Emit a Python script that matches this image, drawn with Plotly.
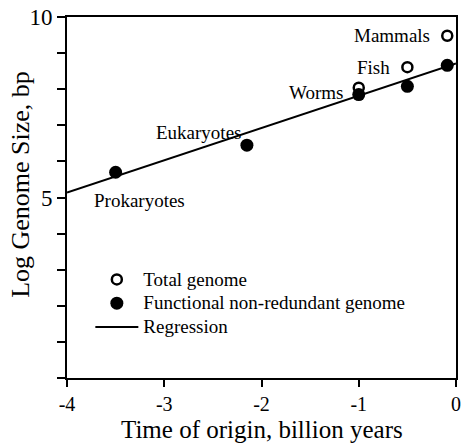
import plotly.graph_objects as go

# Data
groups = ["Prokaryotes", "Eukaryotes", "Worms", "Fish", "Mammals"]
functional_x = [-3.5, -2.15, -1.0, -0.5, -0.09]
functional_y = [5.70, 6.45, 7.85, 8.08, 8.66]
total_x = [-1.0, -0.5, -0.09]
total_y = [8.04, 8.61, 9.48]
regression_x = [-4.0, 0.0]
regression_y = [5.14, 8.71]
x_ticks = [-4, -3, -2, -1, 0]
x_tick_labels = ["-4", "-3", "-2", "-1", "0"]
y_ticks = [0, 1, 2, 3, 4, 5, 6, 7, 8, 9, 10]
y_tick_labels = ["", "", "", "", "", "5", "", "", "", "", "10"]
legend_names = ["Total genome", "Functional non-redundant genome", "Regression"]

FONT = "Liberation Serif"

def big(t):
    return '<span style="font-size:19px">' + t + '</span>'

fig = go.Figure()
fig.add_trace(go.Scatter(x=total_x, y=total_y, mode="markers", name=big(legend_names[0]),
                         marker=dict(symbol="circle-open", size=10, color="black",
                                     line=dict(width=2.5, color="black"))))
fig.add_trace(go.Scatter(x=functional_x, y=functional_y, mode="markers",
                         name=big(legend_names[1]),
                         marker=dict(symbol="circle", size=13, color="black")))
fig.add_trace(go.Scatter(x=regression_x, y=regression_y, mode="lines", name=big(legend_names[2]),
                         line=dict(color="black", width=2)))

# label anchors: (x, y, xanchor, xshift, yshift)
label_points = [
    (functional_x[0], functional_y[0], "left", -24, -28),
    (functional_x[1], functional_y[1], "right", -4, 13),
    (functional_x[2], functional_y[2], "right", -14, 2),
    (total_x[1], total_y[1], "right", -15, 0),
    (total_x[2], total_y[2], "right", -15, 0),
]
for name, (lx, ly, xa, xs, ys) in zip(groups, label_points):
    fig.add_annotation(x=lx, y=ly, text=name, showarrow=False, xanchor=xa,
                       yanchor="middle", xshift=xs, yshift=ys,
                       font=dict(family=FONT, size=19, color="black"))

fig.add_annotation(xref="paper", yref="paper", x=0, y=0.535, xshift=-46,
                   text="Log Genome Size, bp", textangle=-90, showarrow=False,
                   xanchor="center", yanchor="middle",
                   font=dict(family=FONT, size=26, color="black"))
fig.add_annotation(xref="paper", yref="paper", x=0.5, y=-0.18, yshift=-2,
                   text="Time of origin, billion years", showarrow=False,
                   xanchor="center", yanchor="bottom",
                   font=dict(family=FONT, size=25, color="black"))

fig.update_layout(
    width=462, height=443,
    margin=dict(l=67, r=6, t=17, b=65),
    paper_bgcolor="white", plot_bgcolor="white",
    font=dict(family=FONT, color="black"),
    showlegend=True,
    legend=dict(x=0.06, y=0.32, xanchor="left", yanchor="top",
                bgcolor="rgba(0,0,0,0)", font=dict(family=FONT, size=16),
                itemwidth=43, tracegroupgap=0),
)
fig.update_xaxes(range=[-4, 0], tickvals=x_ticks, ticktext=x_tick_labels, ticks="outside",
                 ticklen=7, tickwidth=2, automargin=False,
                 tickcolor="black", showline=True, linewidth=2, linecolor="black",
                 mirror=True, showgrid=False, zeroline=False, ticklabelstandoff=0,
                 tickfont=dict(family=FONT, size=20))
fig.update_yaxes(range=[0, 10], tickvals=y_ticks, ticktext=y_tick_labels, ticks="outside",
                 ticklen=8, tickwidth=2, tickcolor="black", showline=True, linewidth=2,
                 linecolor="black", mirror=True, showgrid=False, zeroline=False,
                 automargin=False,
                 tickfont=dict(family=FONT, size=23))

fig.write_html("out.html")
